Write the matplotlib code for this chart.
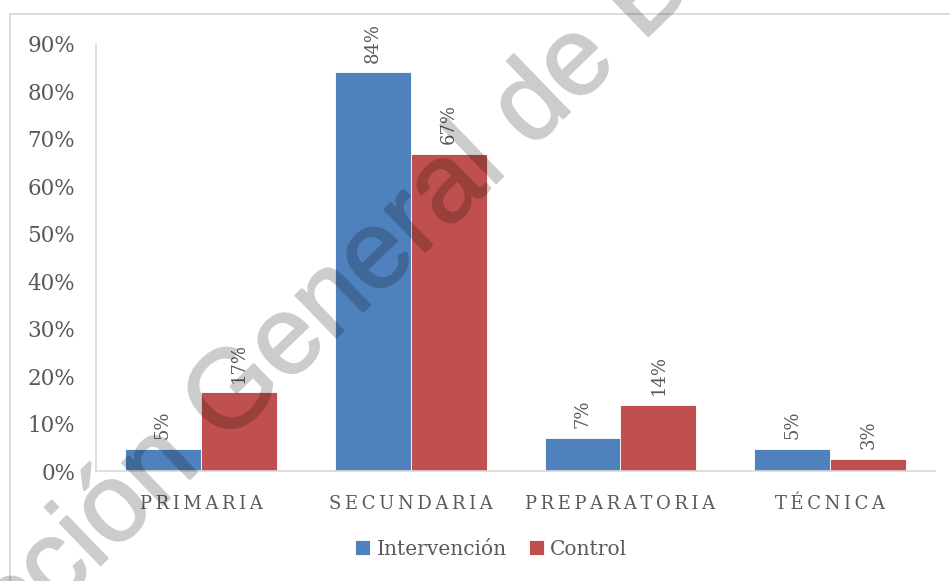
import matplotlib
matplotlib.use("Agg")
import matplotlib.pyplot as plt
import matplotlib.patheffects as pe
import numpy as np
from matplotlib.patches import Rectangle

# Nivel de escolaridad por grupo (porcentaje)
categorias = ["PRIMARIA", "SECUNDARIA", "PREPARATORIA", "TÉCNICA"]
intervencion = [4.6, 84.0, 7.0, 4.6]
control = [16.6, 66.9, 13.9, 2.6]
series_nombres = ["Intervención", "Control"]
yticks = [0, 10, 20, 30, 40, 50, 60, 70, 80, 90]

AZUL = "#4F81BD"
ROJO = "#C0504D"
TEXTO = "#595959"
SERIF = "DejaVu Serif"

fig = plt.figure(figsize=(9.5, 5.81), dpi=100)
ax = fig.add_axes([0.1011, 0.1893, 0.8832, 0.7350])

x = np.arange(len(categorias))
w = 0.362
ax.bar(x - w / 2, intervencion, width=w, color=AZUL, edgecolor="white",
       linewidth=0.6, label=series_nombres[0], zorder=2)
ax.bar(x + w / 2, control, width=w, color=ROJO, edgecolor="white",
       linewidth=0.6, label=series_nombres[1], zorder=2)

for xs, vals in ((x - w / 2, intervencion), (x + w / 2, control)):
    for xi, v in zip(xs, vals):
        ax.annotate(f"{v:.0f}%", (xi, v), xytext=(0, 7), textcoords="offset points",
                    rotation=90, ha="center", va="bottom", color=TEXTO,
                    fontsize=13, family=SERIF)

ax.set_xlim(-0.5, len(categorias) - 0.5)
ax.set_ylim(0, 90)
ax.set_yticks(yticks)
ax.set_yticklabels([f"{t}%" for t in yticks], family=SERIF, fontsize=15.5, color=TEXTO)
ax.set_xticks(x)
ax.set_xticklabels(["\u2009".join(c) for c in categorias], family=SERIF,
                   fontsize=13, color=TEXTO)
ax.tick_params(axis="both", length=0)
ax.tick_params(axis="y", pad=15)
ax.tick_params(axis="x", pad=17)

for s in ("top", "right"):
    ax.spines[s].set_visible(False)
for s in ("left", "bottom"):
    ax.spines[s].set_color("#D9D9D9")
    ax.spines[s].set_linewidth(1.2)

leg = fig.legend(loc="center", bbox_to_anchor=(0.517, 0.055), ncol=2, frameon=False,
                 prop={"family": SERIF, "size": 14.5}, handlelength=0.75,
                 handleheight=0.75, handletextpad=0.3, columnspacing=1.1)
for t in leg.get_texts():
    t.set_color(TEXTO)

# Marco del área del gráfico
fig.add_artist(Rectangle((10 / 950, -0.2), 1.2, 1.2 - 14 / 581,
                         transform=fig.transFigure, fill=False,
                         edgecolor="#D9D9D9", linewidth=1.3, zorder=1))


def translucido(img, dpi):
    # Texto opaco renderizado aparte; se atenúa su canal alfa de forma uniforme
    out = img.copy()
    out[..., 3] *= 0.2
    return out, 0, 0


# Marca de agua
marca = fig.text(-0.1381, -0.358, "Dirección General de Bibliotecas", rotation=44,
                 rotation_mode="anchor", ha="left", va="baseline", fontsize=80,
                 family="Liberation Sans", color="black", zorder=10,
                 path_effects=[pe.withStroke(linewidth=1.5, foreground="black")])
marca.set_agg_filter(translucido)

fig.savefig("out.png", dpi=100)
